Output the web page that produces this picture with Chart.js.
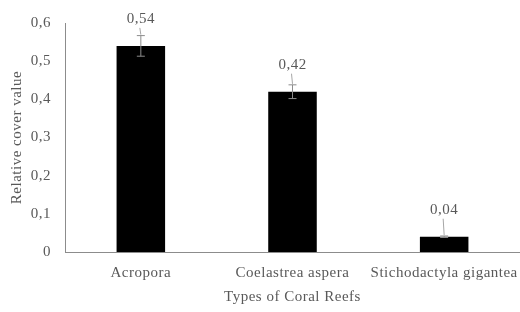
<!DOCTYPE html>
<html>
<head>
<meta charset="utf-8">
<script src="https://cdn.jsdelivr.net/npm/chart.js@4/dist/chart.umd.min.js"></script>
<style>
  html, body { margin: 0; padding: 0; background: #fff; }
  #wrap { width: 520px; height: 312px; }
</style>
</head>
<body>
<div id="wrap"><canvas id="chart" width="520" height="312"></canvas></div>
<script>
const categories = ["Acropora", "Coelastrea aspera", "Stichodactyla gigantea"];
const coverValues = [0.54, 0.42, 0.04];
const errorValues = [0.027, 0.018, 0.002];
const yTicks = [0, 0.1, 0.2, 0.3, 0.4, 0.5, 0.6];

const textColor = "#595959";
const axisColor = "#8c8c8c";
const fontFamily = "'Liberation Serif', 'Times New Roman', serif";

function fmt(v) {
  return v.toString().replace(".", ",");
}

// the scanned text is a bit spread out
const spacing = {
  id: "spacing",
  beforeUpdate(chart) { chart.ctx.letterSpacing = "0.5px"; },
  beforeDraw(chart) { chart.ctx.letterSpacing = "0.5px"; }
};

// error bars + data labels with little leader lines
const barExtras = {
  id: "barExtras",
  afterDatasetsDraw(chart) {
    const ctx = chart.ctx;
    const y = chart.scales.y;
    const meta = chart.getDatasetMeta(0);
    ctx.save();
    meta.data.forEach((bar, i) => {
      const x = bar.x;
      const top = y.getPixelForValue(coverValues[i] + errorValues[i]);
      const bot = y.getPixelForValue(coverValues[i] - errorValues[i]);
      ctx.strokeStyle = "#8c8c8c";
      ctx.lineWidth = 1;
      ctx.beginPath();
      ctx.moveTo(x, top); ctx.lineTo(x, bot);
      ctx.moveTo(x - 4, top); ctx.lineTo(x + 4, top);
      ctx.moveTo(x - 4, bot); ctx.lineTo(x + 4, bot);
      ctx.stroke();

      const labelY = bar.y - 27;
      ctx.fillStyle = textColor;
      ctx.font = "15px " + fontFamily;
      ctx.textAlign = "center";
      ctx.textBaseline = "middle";
      ctx.fillText(fmt(coverValues[i]), x, labelY);

      const lineStart = labelY + 9;
      if (top - lineStart > 2) {
        ctx.strokeStyle = "#a6a6a6";
        ctx.beginPath();
        ctx.moveTo(x - 1, lineStart);
        ctx.lineTo(x, top - 1);
        ctx.stroke();
      }
    });
    ctx.restore();
  }
};

new Chart(document.getElementById("chart"), {
  type: "bar",
  data: {
    labels: categories,
    datasets: [{
      data: coverValues,
      backgroundColor: "#000000",
      borderWidth: 0,
      categoryPercentage: 1,
      barPercentage: 0.32
    }]
  },
  options: {
    responsive: false,
    animation: false,
    layout: { padding: { top: 12, right: 0, left: 4, bottom: 2 } },
    plugins: { legend: { display: false }, tooltip: { enabled: false } },
    scales: {
      x: {
        grid: { display: false, drawTicks: false },
        border: { color: axisColor, width: 1 },
        ticks: {
          color: textColor,
          font: { family: fontFamily, size: 15 },
          padding: 12,
          minRotation: 0,
          maxRotation: 0,
          autoSkip: false
        },
        title: {
          display: true,
          text: "Types of Coral Reefs",
          color: textColor,
          font: { family: fontFamily, size: 15 },
          padding: { top: 16 }
        },
        afterFit(scale) {
          scale.height = 58;
          scale.paddingLeft = 0;
          scale.paddingRight = 0;
        }
      },
      y: {
        min: 0,
        max: 0.6,
        afterBuildTicks(scale) { scale.ticks = yTicks.map(v => ({ value: v })); },
        grid: { display: false, drawTicks: false },
        border: { color: axisColor, width: 1 },
        ticks: {
          color: textColor,
          font: { family: fontFamily, size: 15 },
          padding: 14,
          callback: v => fmt(Math.round(v * 10) / 10)
        },
        title: {
          display: true,
          text: "Relative cover value",
          color: textColor,
          font: { family: fontFamily, size: 15 },
          padding: { bottom: 4 }
        },
        afterFit(scale) { scale.width = 61; }
      }
    }
  },
  plugins: [spacing, barExtras]
});
</script>
</body>
</html>
